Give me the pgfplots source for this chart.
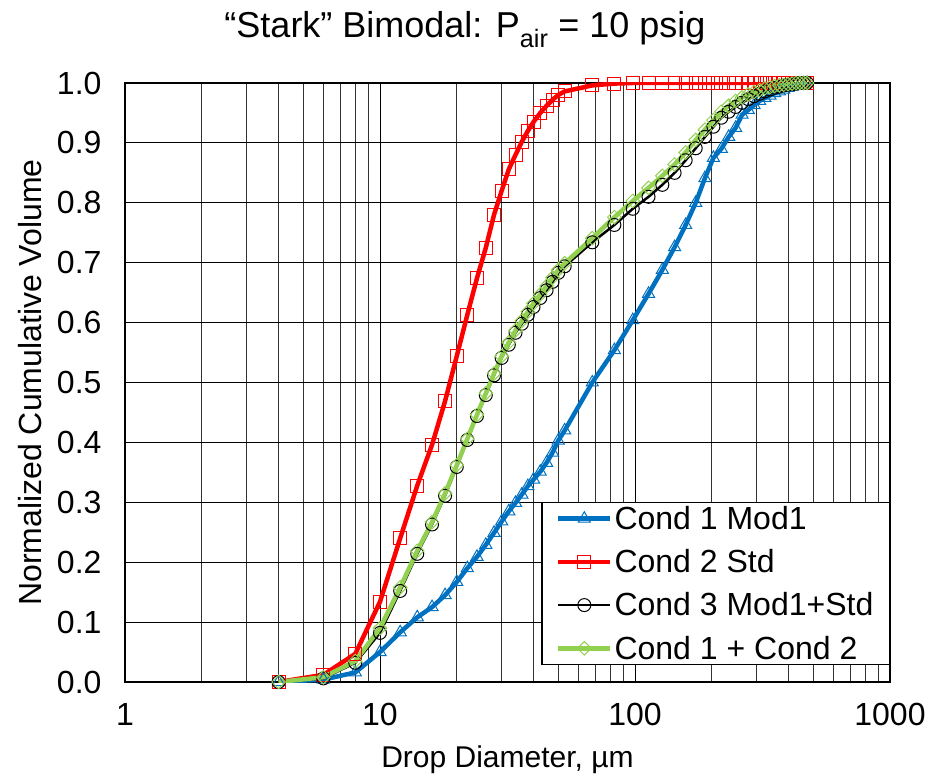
\documentclass[border=0pt]{standalone}
\usepackage{fontspec}
\setmainfont{Liberation Sans}
\usepackage{pgfplots}
\usepackage{pgfplotstable}
\pgfplotsset{compat=1.18}

\definecolor{cblue}{RGB}{0,112,192}
\definecolor{cgreen}{RGB}{146,208,80}

% drop diameter (um) and normalized cumulative volume
\pgfplotstableread{
d     c1     c2     c3     c12
4     0.000  0.000  0.000  0.000
6     0.004  0.012  0.006  0.008
8     0.016  0.047  0.032  0.035
10    0.050  0.134  0.082  0.090
12    0.083  0.240  0.152  0.158
14    0.108  0.328  0.214  0.219
16    0.125  0.396  0.263  0.267
18    0.145  0.469  0.311  0.315
20    0.167  0.544  0.359  0.362
22    0.190  0.613  0.404  0.406
24    0.209  0.674  0.444  0.446
26    0.229  0.725  0.479  0.482
28    0.249  0.780  0.512  0.515
30    0.268  0.820  0.541  0.544
32    0.285  0.856  0.563  0.567
34    0.299  0.880  0.583  0.587
36    0.313  0.902  0.598  0.603
38    0.327  0.920  0.613  0.618
40    0.338  0.935  0.626  0.632
42.5  0.351  0.950  0.641  0.647
45    0.366  0.962  0.654  0.661
47.5  0.383  0.972  0.668  0.675
50    0.403  0.980  0.683  0.688
53    0.420  0.986  0.694  0.699
68    0.500  0.996  0.734  0.741
83    0.554  0.999  0.763  0.776
98    0.604  1.000  0.790  0.803
113   0.648  1.000  0.810  0.825
128   0.688  1.000  0.830  0.845
143   0.726  1.000  0.850  0.864
158   0.763  1.000  0.871  0.884
173   0.800  1.000  0.891  0.905
188   0.841  1.000  0.910  0.922
203   0.875  1.000  0.927  0.938
218   0.890  1.000  0.942  0.952
233   0.910  1.000  0.952  0.962
248   0.925  1.000  0.960  0.970
263   0.947  1.000  0.967  0.976
278   0.955  1.000  0.973  0.981
293   0.963  1.000  0.978  0.985
308   0.970  1.000  0.982  0.988
323   0.975  1.000  0.986  0.991
338   0.979  1.000  0.989  0.993
353   0.983  1.000  0.992  0.995
368   0.986  1.000  0.994  0.996
383   0.989  1.000  0.996  0.997
398   0.992  1.000  0.997  0.998
413   0.994  1.000  0.998  0.999
428   0.996  1.000  0.999  1.000
443   0.998  1.000  1.000  1.000
458   0.999  1.000  1.000  1.000
473   1.000  1.000  1.000  1.000
}\psd

\begin{document}
\begin{tikzpicture}
\begin{axis}[
    at={(0,0)}, anchor=south west,
    scale only axis,
    width=765pt, height=599pt,
    xmode=log,
    xmin=1, xmax=1000,
    ymin=0, ymax=1,
    xtick={1,10,100,1000},
    xticklabels={1,10,100,1000},
    ytick distance=0.1,
    yticklabel style={/pgf/number format/fixed, /pgf/number format/fixed zerofill,
        /pgf/number format/precision=1, xshift=-20pt},
    xticklabel style={yshift=-18pt},
    /pgf/number format/assume math mode=true,
    tick label style={font=\fontsize{32}{36}\selectfont},
    xlabel style={font=\fontsize{30}{34}\selectfont},
    ylabel style={font=\fontsize{32}{36}\selectfont},
    major tick length=0pt, minor tick length=0pt,
    grid=both,
    major grid style={black, line width=1pt},
    minor grid style={black!80, line width=0.9pt},
    axis line style={black, line width=1.5pt},
    xlabel={Drop Diameter, µm},
    ylabel={Normalized Cumulative Volume},
    xlabel style={at={(axis description cs:0.5,-0.130)}, anchor=center},
    ylabel style={at={(axis description cs:-0.124,0.5)}, anchor=center},
    legend cell align=left,
    legend style={at={(rel axis cs:1,0.028)}, anchor=south east,
        draw=black, line width=1.2pt, fill=white,
        font=\fontsize{32}{36}\selectfont,
        inner xsep=14pt, inner ysep=2pt, row sep=14.5pt},
    legend image code/.code={
        \draw[mark repeat=2, mark phase=2] plot coordinates {(0pt,0pt) (26pt,0pt) (52pt,0pt)};},
]
\addplot[cblue, line width=4.5pt, mark=triangle, mark size=7pt,
    mark options={line width=1pt, fill=none, solid}] table[x=d, y=c1] {\psd};
\addlegendentry{Cond 1 Mod1}
\addplot[red, line width=4.5pt, mark=square, mark size=6.5pt,
    mark options={line width=1pt, fill=none, solid}] table[x=d, y=c2] {\psd};
\addlegendentry{Cond 2 Std}
\addplot[black, line width=2.5pt, mark=o, mark size=6.5pt,
    mark options={line width=1pt, fill=none, solid}] table[x=d, y=c3] {\psd};
\addlegendentry{Cond 3 Mod1+Std}
\addplot[cgreen, line width=4.5pt, mark=square, mark size=4.8pt,
    mark options={line width=1pt, fill=none, solid, rotate=45}] table[x=d, y=c12] {\psd};
\addlegendentry{Cond 1 + Cond 2}
\end{axis}
\node[anchor=base, font=\fontsize{36}{40}\selectfont] at (340pt,644pt)
    {“Stark” Bimodal: P\textsubscript{air} = 10 psig};
\pgfresetboundingbox
\useasboundingbox (-125pt,-94pt) rectangle (817pt,682pt);
\end{tikzpicture}
\end{document}
